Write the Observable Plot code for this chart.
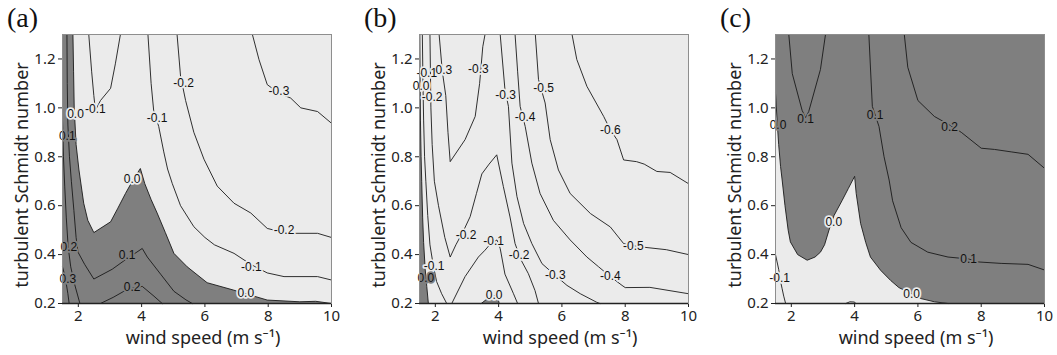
<!DOCTYPE html>
<html>
<head>
<meta charset="utf-8">
<script src="https://cdn.jsdelivr.net/npm/d3@7"></script>
<script src="https://cdn.jsdelivr.net/npm/@observablehq/plot@0.6"></script>
<style>
  html, body { margin: 0; padding: 0; background: #fff; }
  #root { position: relative; width: 1057px; height: 355px; overflow: hidden; }
  .panel { position: absolute; top: 0; }
  .tag { position: absolute; top: 2px; font-family: "Liberation Serif", "DejaVu Serif", serif; font-size: 28px; color: #111; line-height: normal; }
</style>
</head>
<body>
<div id="root"></div>
<script>
// ---------- axes ----------
const xDomain = [1.5, 10];
const yDomain = [0.2, 1.3];
const xTicks = [2, 4, 6, 8, 10];
const yTicks = [0.2, 0.4, 0.6, 0.8, 1.0, 1.2];
const xLabel = "wind speed (m s\u207B\u00B9)";
const yLabel = "turbulent Schmidt number";
const panelTags = ["(a)", "(b)", "(c)"];

// ---------- panel (a): contour lines [level, points(wind speed, Sc)] ----------
const a_zero = [[1.83,1.3],[1.85,1.15],[1.87,1.0],[1.93,0.85],[2.02,0.746],[2.17,0.61],[2.3,0.54],[2.49,0.49],[3.02,0.534],[3.25,0.59],[3.49,0.65],[3.75,0.71],[3.96,0.752],[4.1,0.69],[4.3,0.625],[4.49,0.57],[4.75,0.49],[5.02,0.405],[5.44,0.35],[6.07,0.285],[6.9,0.255],[7.97,0.214],[9.0,0.207],[9.5,0.209],[10,0.2]];
const a_p01 = [[1.64,1.3],[1.65,1.1],[1.67,0.93],[1.72,0.8],[1.78,0.7],[1.86,0.58],[1.93,0.47],[1.99,0.41],[2.2,0.36],[2.49,0.3],[3.07,0.34],[3.5,0.38],[4.02,0.425],[4.18,0.39],[4.6,0.32],[5.02,0.25],[5.4,0.215],[5.6,0.2]];
const a_p02a = [[1.5,0.95],[1.53,0.8],[1.57,0.68],[1.62,0.55],[1.68,0.43],[1.76,0.35],[1.88,0.28],[2.05,0.2]];
const a_p02b = [[2.7,0.2],[3.1,0.225],[3.44,0.25],[3.7,0.262],[4.02,0.27],[4.39,0.23],[4.65,0.2]];
const a_p03 = [[1.5,0.35],[1.56,0.32],[1.62,0.28],[1.67,0.24],[1.71,0.2]];
const a_n01a = [[2.33,1.3],[2.42,1.15],[2.49,1.05],[2.54,0.99],[2.7,1.03],[3.02,1.08],[3.17,1.18],[3.33,1.3]];
const a_n01b = [[4.2,1.3],[4.3,1.1],[4.38,0.99],[4.54,0.924],[4.7,0.82],[4.82,0.75],[4.97,0.69],[5.23,0.6],[5.65,0.514],[6.0,0.47],[6.3,0.44],[6.92,0.405],[7.45,0.36],[7.97,0.325],[8.5,0.31],[9.56,0.31],[10,0.296]];
const a_n02 = [[5.12,1.3],[5.23,1.13],[5.39,1.03],[5.65,0.9],[5.97,0.79],[6.39,0.68],[6.92,0.61],[7.45,0.57],[7.97,0.507],[8.5,0.49],[8.82,0.487],[9.56,0.487],[10,0.47]];
const a_n03 = [[7.5,1.3],[7.71,1.197],[7.97,1.095],[8.34,1.06],[8.71,1.04],[9.03,1.0],[9.56,0.985],[10,0.937]];
const a_lines = [[0.0,a_zero],[0.1,a_p01],[0.2,a_p02a],[0.2,a_p02b],[0.3,a_p03],[-0.1,a_n01a],[-0.1,a_n01b],[-0.2,a_n02],[-0.3,a_n03]];
const a_labels = [["0.0",1.91,0.975],["-0.1",2.54,0.996],["0.1",1.65,0.883],["-0.1",4.49,0.958],["-0.2",5.33,1.099],["-0.3",8.34,1.07],["0.0",3.7,0.708],["0.1",3.54,0.397],["0.2",1.7,0.431],["0.3",1.67,0.298],["0.2",3.7,0.267],["-0.1",7.47,0.348],["-0.2",8.5,0.498],["0.0",7.29,0.241]];

// ---------- panel (b) ----------
const b_zeroA = [[1.51,1.3],[1.52,1.1],[1.53,0.95],[1.55,0.8],[1.57,0.7],[1.6,0.55],[1.63,0.45],[1.68,0.34],[1.73,0.27],[1.78,0.2]];
const b_zeroB = [[3.45,0.2],[3.6,0.215],[3.8,0.228],[3.95,0.235],[4.02,0.2]];
const b_n01a = [[1.59,1.3],[1.61,1.1],[1.63,0.95],[1.66,0.8],[1.7,0.7],[1.76,0.56],[1.83,0.44],[1.93,0.36],[2.04,0.29],[2.2,0.24],[2.36,0.2]];
const b_n01b = [[2.52,0.2],[2.94,0.31],[3.36,0.39],[3.57,0.418],[3.75,0.445],[3.95,0.46],[4.05,0.425],[4.2,0.32],[4.47,0.24],[4.6,0.2]];
const b_n02 = [[1.83,1.3],[1.86,1.0],[1.9,0.85],[1.97,0.7],[2.1,0.6],[2.3,0.47],[2.47,0.39],[2.65,0.44],[2.9,0.5],[3.1,0.555],[3.3,0.65],[3.47,0.73],[3.7,0.77],[3.94,0.808],[4.15,0.678],[4.36,0.554],[4.52,0.445],[4.7,0.38],[4.94,0.322],[5.15,0.253],[5.26,0.2]];
const b_n03a = [[2.12,1.3],[2.22,1.15],[2.33,1.05],[2.4,0.9],[2.47,0.78],[2.94,0.87],[3.26,0.965],[3.4,1.1],[3.5,1.25],[3.57,1.3]];
const b_n03b = [[4.05,1.3],[4.2,1.075],[4.31,1.006],[4.42,0.774],[4.58,0.637],[4.79,0.527],[5.05,0.445],[5.37,0.363],[5.79,0.315],[6.16,0.274],[6.58,0.24],[7.1,0.205],[7.2,0.2]];
const b_n04 = [[4.52,1.3],[4.6,1.15],[4.68,1.006],[4.84,0.924],[5.05,0.774],[5.31,0.65],[5.73,0.54],[6.26,0.46],[6.79,0.39],[7.16,0.35],[7.53,0.31],[7.9,0.274],[8.0,0.265],[8.78,0.266],[10,0.24]];
const b_n05 = [[5.16,1.3],[5.26,1.116],[5.47,1.02],[5.63,0.87],[5.89,0.746],[6.26,0.65],[6.9,0.568],[7.53,0.513],[7.95,0.445],[8.26,0.436],[8.6,0.43],[9.3,0.42],[10,0.4]];
const b_n06 = [[6.32,1.3],[6.47,1.198],[6.79,1.088],[7.32,0.965],[7.53,0.91],[7.74,0.87],[7.95,0.787],[8.36,0.78],[8.6,0.77],[9.0,0.74],[9.42,0.736],[10,0.69]];
const b_lines = [[0.0,b_zeroA],[0.0,b_zeroB],[-0.1,b_n01a],[-0.1,b_n01b],[-0.2,b_n02],[-0.3,b_n03a],[-0.3,b_n03b],[-0.4,b_n04],[-0.5,b_n05],[-0.6,b_n06]];
const b_labels = [["-0.1",1.73,1.14],["0.3",2.27,1.155],["0.0",1.55,1.09],["-0.2",1.9,1.045],["-0.3",3.36,1.157],["-0.3",4.22,1.05],["-0.4",4.84,0.96],["-0.5",5.42,1.08],["-0.6",7.53,0.91],["-0.2",2.97,0.48],["-0.1",1.96,0.353],["0.0",1.7,0.305],["-0.1",3.84,0.455],["-0.2",4.65,0.397],["-0.3",5.79,0.315],["-0.4",7.53,0.312],["-0.5",8.26,0.436],["0.0",3.86,0.236]];

// ---------- panel (c) ----------
const c_zero = [[1.5,1.06],[1.55,0.95],[1.6,0.85],[1.66,0.76],[1.71,0.705],[1.8,0.6],[1.9,0.5],[1.97,0.452],[2.2,0.4],[2.5,0.377],[2.75,0.39],[2.92,0.41],[3.05,0.44],[3.19,0.5],[3.35,0.56],[3.6,0.62],[3.8,0.67],[4.0,0.72],[4.05,0.65],[4.19,0.527],[4.35,0.45],[4.5,0.39],[4.82,0.336],[5.14,0.294],[5.4,0.265],[5.8,0.24],[6.1,0.22],[6.52,0.207],[6.95,0.2]];
const c_zeroB = [[3.72,0.2],[3.85,0.207],[4.0,0.206],[4.03,0.2]];
const c_n01 = [[1.5,0.4],[1.55,0.37],[1.6,0.34],[1.66,0.29],[1.71,0.26],[1.76,0.23],[1.82,0.2]];
const c_p01a = [[1.92,1.3],[2.03,1.14],[2.34,0.99],[2.45,0.96],[2.55,0.985],[2.92,1.157],[3.08,1.3]];
const c_p01b = [[4.45,1.3],[4.56,1.006],[4.77,0.924],[4.93,0.8],[5.09,0.705],[5.2,0.62],[5.47,0.51],[5.78,0.45],[6.31,0.41],[6.95,0.39],[7.6,0.382],[7.9,0.37],[8.63,0.364],[9.48,0.36],[10,0.337]];
const c_p02 = [[5.57,1.3],[5.68,1.166],[6.0,1.03],[6.52,0.965],[7.0,0.93],[7.37,0.9],[8.0,0.835],[8.42,0.83],[8.95,0.82],[9.48,0.81],[10,0.753]];
const c_lines = [[0.0,c_zero],[0.0,c_zeroB],[-0.1,c_n01],[0.1,c_p01a],[0.1,c_p01b],[0.2,c_p02]];
const c_labels = [["0.0",1.58,0.928],["0.1",2.45,0.952],["0.1",4.65,0.97],["0.2",7.0,0.921],["0.0",3.34,0.534],["-0.1",1.63,0.305],["0.1",7.6,0.382],["0.0",5.8,0.238]];

// ---------- colours ----------
const LIGHT = "#ebebeb";
const DARK = "#7f7f7f";

// filled regions built from the 0.0 contours and the plot corners
const [x0, x1] = xDomain, [y0, y1] = yDomain;
const panels = [
  { lines: a_lines, labels: a_labels, bg: LIGHT, fg: DARK,
    fills: [[[x0, y1], ...a_zero, [x1, y0], [x0, y0]]] },
  { lines: b_lines, labels: b_labels, bg: LIGHT, fg: DARK,
    fills: [[[x0, y1], ...b_zeroA, [x0, y0]], b_zeroB] },
  { lines: c_lines, labels: c_labels, bg: DARK, fg: LIGHT,
    fills: [[...c_zero, [x0, y0]]] }
];

const root = document.getElementById("root");
const offsets = [0, 357, 713];

panels.forEach((p, i) => {
  const segs = [];
  p.lines.forEach(([lvl, pts], k) => pts.forEach(([x, y]) => segs.push({id: k, lvl, x, y})));
  const labs = p.labels.map(([t, x, y]) => {
    const inFg = p.fills.some(poly => d3.polygonContains(poly, [x, y]));
    return {t, x, y, halo: inFg ? p.fg : p.bg};
  });
  const fillMarks = p.fills.map(poly => Plot.line(poly, {x: d => d[0], y: d => d[1], fill: p.fg, stroke: "none", curve: "linear"}));
  const labBase = {x: "x", y: "y", text: "t", fontSize: 12, fontFamily: "'Liberation Sans', Arial, sans-serif"};
  const chart = Plot.plot({
    width: 344, height: 355,
    marginLeft: 62, marginRight: 13, marginTop: 34, marginBottom: 52,
    style: {fontFamily: "'Noto Sans', sans-serif", fontSize: "15px", color: "#222", background: "transparent", overflow: "visible"},
    x: {domain: xDomain, ticks: xTicks, tickSize: 4, tickPadding: 3, label: null},
    y: {domain: yDomain, ticks: yTicks, tickFormat: d3.format(".1f"), tickSize: 4, tickPadding: 3, label: null},
    marks: [
      Plot.frame({fill: p.bg, stroke: "none"}),
      ...fillMarks,
      Plot.line(segs, {x: "x", y: "y", z: "id", stroke: "#1a1a1a", strokeWidth: 0.9, curve: "linear"}),
      // label halos (clipped to the plot frame), then the label text itself
      Plot.text(labs.filter(d => d.halo === LIGHT), {...labBase, fill: LIGHT, stroke: LIGHT, strokeWidth: 3.5, clip: true}),
      Plot.text(labs.filter(d => d.halo === DARK), {...labBase, fill: DARK, stroke: DARK, strokeWidth: 3.5, clip: true}),
      Plot.text(labs, {...labBase, fill: "#111"}),
      Plot.frame({stroke: "#8e8e8e"}),
      Plot.ruleY([y0], {stroke: "#222", strokeWidth: 1.3}),
      Plot.text([xLabel], {text: d => d, frameAnchor: "bottom", textAnchor: "middle", lineAnchor: "middle", dy: 35, dx: 6, fontSize: 18, fill: "#222"}),
      Plot.text([yLabel], {text: d => d, frameAnchor: "left", textAnchor: "middle", lineAnchor: "middle", rotate: -90, dx: -40, dy: 6, fontSize: 18, fill: "#222"})
    ]
  });
  const wrap = document.createElement("div");
  wrap.className = "panel";
  wrap.style.left = offsets[i] + "px";
  wrap.appendChild(chart);
  root.appendChild(wrap);
  const tag = document.createElement("div");
  tag.className = "tag";
  tag.style.left = (offsets[i] + 7) + "px";
  tag.textContent = panelTags[i];
  root.appendChild(tag);
});
</script>
</body>
</html>
